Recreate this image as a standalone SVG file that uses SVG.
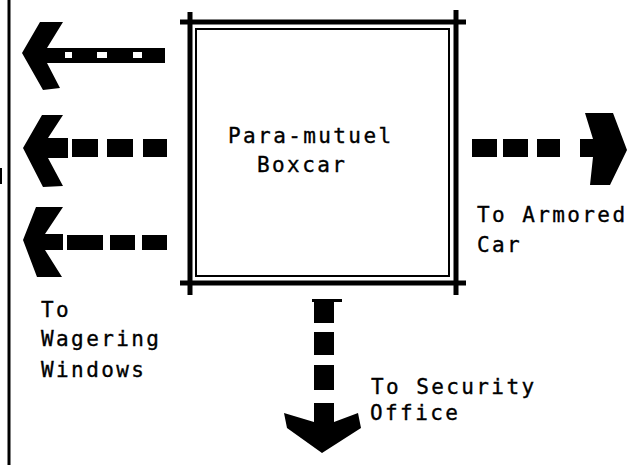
<svg xmlns="http://www.w3.org/2000/svg" width="629" height="465" viewBox="0 0 629 465">
<style>
.t{font-family:"DejaVu Sans Mono","Liberation Mono",monospace;font-size:21px;letter-spacing:2.4px;fill:#000;stroke:#000;stroke-width:0.35}
.thick{stroke:#000;stroke-width:5;stroke-linecap:butt;fill:none}
.ink{fill:#000}
.gap{fill:#fff}
</style>
<rect width="629" height="465" fill="#fff"/>
<g id="border">
<line x1="9" y1="0" x2="9" y2="465" stroke="#000" stroke-width="3"/>
<rect x="0" y="168" width="2" height="16" fill="#000"/>
</g>
<g id="boxcar">
<line class="thick" x1="180" y1="22" x2="466" y2="22"/>
<line class="thick" x1="180" y1="283" x2="466" y2="283"/>
<line class="thick" x1="190" y1="12" x2="190" y2="295"/>
<line class="thick" x1="456" y1="10" x2="456" y2="295"/>
<rect x="196" y="29" width="253" height="247" fill="none" stroke="#000" stroke-width="2"/>
<text class="t" x="228" y="143">Para-mutuel</text>
<text class="t" x="257" y="172">Boxcar</text>
</g>
<g id="connectors">
<g id="arrow-left-1">
<polygon class="ink" points="22,53 40,22 63,22 47,48 165,48 165,63 47,63 60,88 43,90"/>
<rect class="gap" x="65" y="52" width="7" height="6"/>
<rect class="gap" x="97" y="52" width="10" height="6"/>
<rect class="gap" x="133" y="52" width="9" height="6"/>
</g>
<g id="arrow-left-2">
<polygon class="ink" points="23,148 42,115 63,115 48,138 68,138 68,158 48,158 63,186 43,187"/>
<rect class="ink" x="72" y="139" width="26" height="18"/>
<rect class="ink" x="107" y="139" width="26" height="18"/>
<rect class="ink" x="143" y="139" width="24" height="18"/>
</g>
<g id="arrow-left-3">
<polygon class="ink" points="23,240 36,207 63,207 45,234 63,234 63,250 45,250 62,277 37,277"/>
<rect class="ink" x="67" y="235" width="36" height="15"/>
<rect class="ink" x="110" y="235" width="25" height="15"/>
<rect class="ink" x="142" y="235" width="25" height="15"/>
</g>
<g id="arrow-right">
<rect class="ink" x="472" y="139" width="25" height="18"/>
<rect class="ink" x="503" y="139" width="25" height="18"/>
<rect class="ink" x="537" y="139" width="23" height="18"/>
<polygon class="ink" points="580,139 593,139 585,113 613,113 627,150 610,185 590,185 593,157 580,157"/>
</g>
<g id="arrow-down">
<rect class="ink" x="312" y="299" width="30" height="3"/>
<rect class="ink" x="314" y="300" width="20" height="23"/>
<rect class="ink" x="314" y="332" width="20" height="23"/>
<rect class="ink" x="314" y="365" width="20" height="25"/>
<polygon class="ink" points="314,403 334,403 334,422 358,413 361,428 322,453 287,428 284,413 314,422"/>
</g>
</g>
<g id="labels">
<text class="t" x="41" y="317">To</text>
<text class="t" x="41" y="346">Wagering</text>
<text class="t" x="41" y="377">Windows</text>
<text class="t" x="477" y="222">To Armored</text>
<text class="t" x="477" y="252">Car</text>
<text class="t" x="371" y="394">To Security</text>
<text class="t" x="370" y="420">Office</text>
</g>
</svg>
